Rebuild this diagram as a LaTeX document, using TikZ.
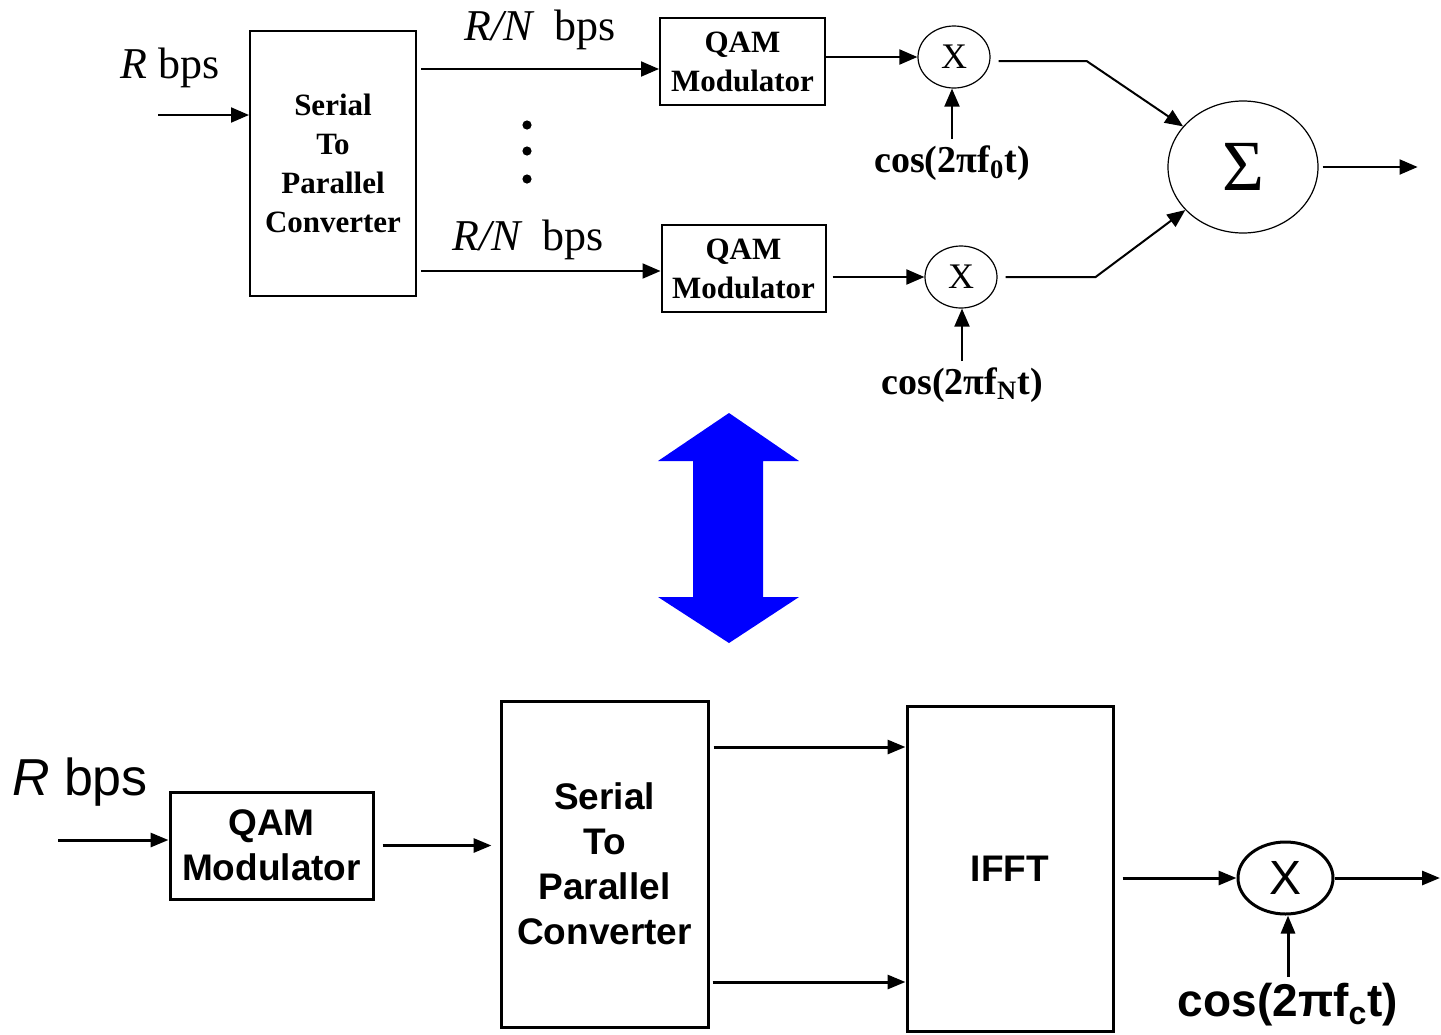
\documentclass[tikz,border=0pt]{standalone}
\usepackage{fontspec}
\setmainfont{Liberation Serif}
\newfontfamily\arialfont{Liberation Sans}
\usetikzlibrary{arrows.meta, positioning, shapes.geometric}
\tikzstyle{arrT} = [line width=1pt, -{Triangle[length=9pt,width=7.5pt]}]
\tikzstyle{arrB} = [line width=1.5pt, -{Triangle[length=9pt,width=7pt]}]

\begin{document}
\begin{tikzpicture}[x=0.5pt, y=-0.5pt,
      oldbox/.style={rectangle, draw=black, line width=1pt, align=center, inner sep=0pt, font=\fontsize{15.5}{19.5}\selectfont\bfseries},
      oldmix/.style={ellipse, draw=black, line width=0.6pt, minimum width=36pt, minimum height=31pt, inner sep=0pt, font=\fontsize{18}{20}\selectfont},
      oldlbl/.style={inner sep=0pt, font=\fontsize{22}{24}\selectfont},
      oldcos/.style={inner sep=3pt, font=\fontsize{19}{21}\selectfont\bfseries},
      newbox/.style={rectangle, draw=black, line width=1.5pt, align=center, inner sep=0pt, font=\arialfont\fontsize{18.5}{22.5}\selectfont\bfseries},
      newmix/.style={ellipse, draw=black, line width=1.5pt, minimum width=47.5pt, minimum height=36pt, inner sep=0pt, font=\arialfont\fontsize{24}{26}\selectfont},
    ]
    \useasboundingbox (0,0) rectangle (1441,1034);

    % Old scheme: one carrier per stream
    \node[oldbox, minimum width=83pt, minimum height=132.5pt] (spT) at (333,163) {Serial\\To\\Parallel\\Converter};
    \node[oldbox, minimum width=82.5pt, minimum height=43.5pt] (qamT1) at (742.5,61.5) {QAM\\Modulator};
    \node[oldbox, minimum width=82pt, minimum height=43.5pt] (qamT2) at (743.5,268.5) {QAM\\Modulator};
    \node[oldmix] (mulT1) at (954,57) {X};
    \node[oldmix] (mulT2) at (961,277) {X};
    \node[ellipse, draw=black, line width=0.6pt, minimum width=75pt, minimum height=66pt, inner sep=0pt, font=\fontsize{36}{38}\selectfont] (sum) at (1243,167) {Σ};

    % Old scheme labels
    \node[oldlbl] (rT) at (170,68) {\textit{R} bps};
    \node[oldlbl] (rn1) at (540,30) {\textit{R/N}\hspace{0.45em}bps};
    \node[oldlbl] (rn2) at (528,240) {\textit{R/N}\hspace{0.45em}bps};
    \node[oldcos] (cos1) at (952,163) {cos(2πf\textsubscript{0}t)};
    \node[oldcos] (cos2) at (962,385) {cos(2πf\textsubscript{N}t)};
    \foreach \y in {125,151,179}
      \fill (527,\y) circle (2.3pt);

    % Old scheme edges
    \coordinate (inT) at (158,115);
    \draw[arrT] (inT) -- (inT -| spT.west);
    \draw[arrT] ([xshift=2pt]spT.east |- 0,69) -- (qamT1.west |- 0,69);
    \draw[arrT] ([xshift=2pt]spT.east |- 0,271) -- (qamT2.west |- 0,271);
    \draw[arrT] (qamT1.east |- mulT1.west) -- (mulT1.west);
    \draw[arrT] ([xshift=3pt]qamT2.east |- mulT2.west) -- (mulT2.west);
    \draw[arrT] (cos1.north) -- (cos1.north |- mulT1.south);
    \draw[arrT] (cos2.north) -- (cos2.north |- mulT2.south);
    \draw[arrT] ([shift={(4pt,-2pt)}]mulT1.east) -- ++(88,0) -- (sum);
    \draw[arrT] ([xshift=4pt]mulT2.east) -- ++(90,0) -- (sum);
    \draw[arrT] ([xshift=2pt]sum.east) -- ++(95,0);

    % Equivalence arrow
    \fill[blue] (729,413) -- (799,461) -- (763,461) -- (763,597) -- (799,597) -- (729,643)
      -- (658,597) -- (693,597) -- (693,461) -- (658,461) -- cycle;

    % New scheme: IFFT
    \node[newbox, minimum width=101.5pt, minimum height=53.5pt] (qamB) at (271.5,845.5) {QAM\\Modulator};
    \node[newbox, minimum width=103.5pt, minimum height=163pt] (spB) at (604.5,864) {Serial\\To\\Parallel\\Converter};
    \node[newbox, minimum width=103pt, minimum height=162.5pt] (ifft) at (1010,868.5) {IFFT};
    \node[newmix] (mulB) at (1285.5,878) {X};
    \node[inner sep=0pt, font=\arialfont\fontsize{26}{28}\selectfont] (rB) at (80,782) {\textit{R} bps};
    \node[inner sep=3pt, font=\arialfont\fontsize{23}{25}\selectfont\bfseries] (cosB) at (1288,1005) {cos(2πf\textsubscript{c}t)};

    % New scheme edges
    \coordinate (inB) at (58,840);
    \coordinate (outB) at (1440,878);
    \draw[arrB] (inB) -- (inB -| qamB.west);
    \draw[arrB] ([xshift=4pt]qamB.east) -- ([xshift=-4pt]spB.west |- qamB.east);
    \draw[arrB] ([xshift=2pt]spB.east |- 0,747) -- (ifft.west |- 0,747);
    \draw[arrB] ([xshift=1.5pt]spB.east |- 0,982) -- (ifft.west |- 0,982);
    \draw[arrB] ([xshift=4pt]ifft.east |- mulB.west) -- (mulB.west);
    \draw[arrB] (mulB.east) -- (outB);
    \draw[arrB] (cosB.north) -- (cosB.north |- mulB.south);

  \end{tikzpicture}
\end{document}
